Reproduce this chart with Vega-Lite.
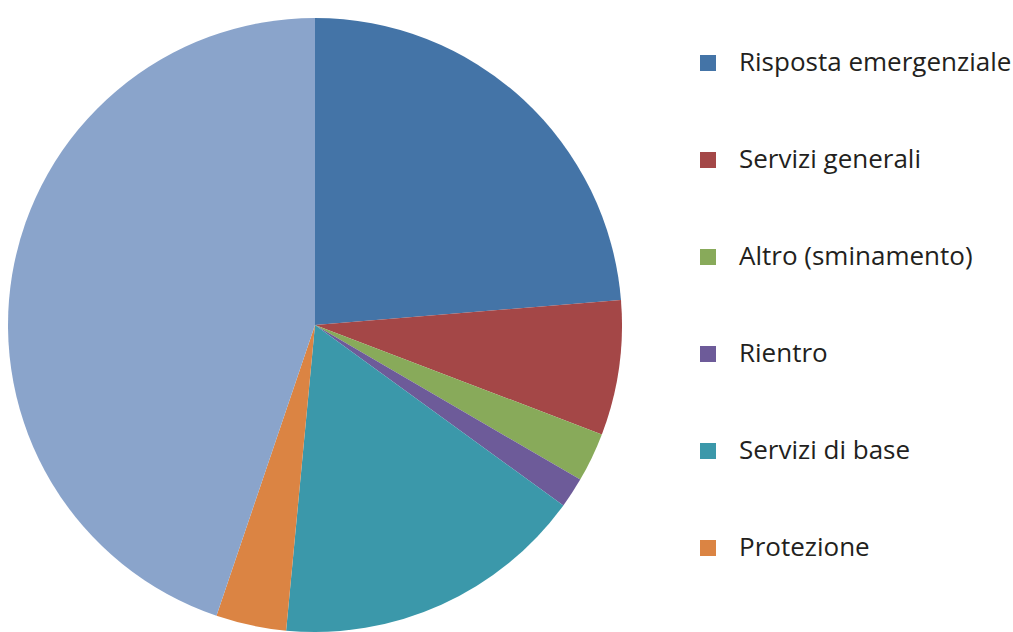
{
  "$schema": "https://vega.github.io/schema/vega-lite/v6.json",
  "width": 630,
  "height": 650,
  "padding": {"left": 0, "top": 0, "right": 0, "bottom": 0},
  "background": "white",
  "view": {"stroke": null},
  "data": {
    "values": [
      {"categoria": "Risposta emergenziale", "ordine": 1, "quota": 23.7},
      {"categoria": "Servizi generali", "ordine": 2, "quota": 7.1},
      {"categoria": "Altro (sminamento)", "ordine": 3, "quota": 2.6},
      {"categoria": "Rientro", "ordine": 4, "quota": 1.6},
      {"categoria": "Servizi di base", "ordine": 5, "quota": 16.5},
      {"categoria": "Protezione", "ordine": 6, "quota": 3.7},
      {"categoria": "Altri settori", "ordine": 7, "quota": 44.8}
    ]
  },
  "mark": {"type": "arc", "radius": 307, "stroke": null},
  "encoding": {
    "theta": {"field": "quota", "type": "quantitative", "stack": true},
    "order": {"field": "ordine", "type": "quantitative"},
    "color": {
      "field": "categoria",
      "type": "nominal",
      "scale": {
        "domain": ["Risposta emergenziale", "Servizi generali", "Altro (sminamento)", "Rientro", "Servizi di base", "Protezione", "Altri settori"],
        "range": ["#4474A7", "#A44747", "#88AA5A", "#6D5B99", "#3B98AA", "#DB8443", "#8AA4CB"]
      },
      "legend": {
        "title": null,
        "values": ["Risposta emergenziale", "Servizi generali", "Altro (sminamento)", "Rientro", "Servizi di base", "Protezione"],
        "orient": "none",
        "legendX": 695,
        "legendY": 50,
        "symbolType": "square",
        "symbolSize": 256,
        "symbolStrokeWidth": 0,
        "symbolOpacity": 1,
        "labelFont": "Open Sans",
        "labelFontSize": 26,
        "labelColor": "#231f20",
        "labelOffset": 18,
        "labelLimit": 400,
        "rowPadding": 71
      }
    }
  }
}
